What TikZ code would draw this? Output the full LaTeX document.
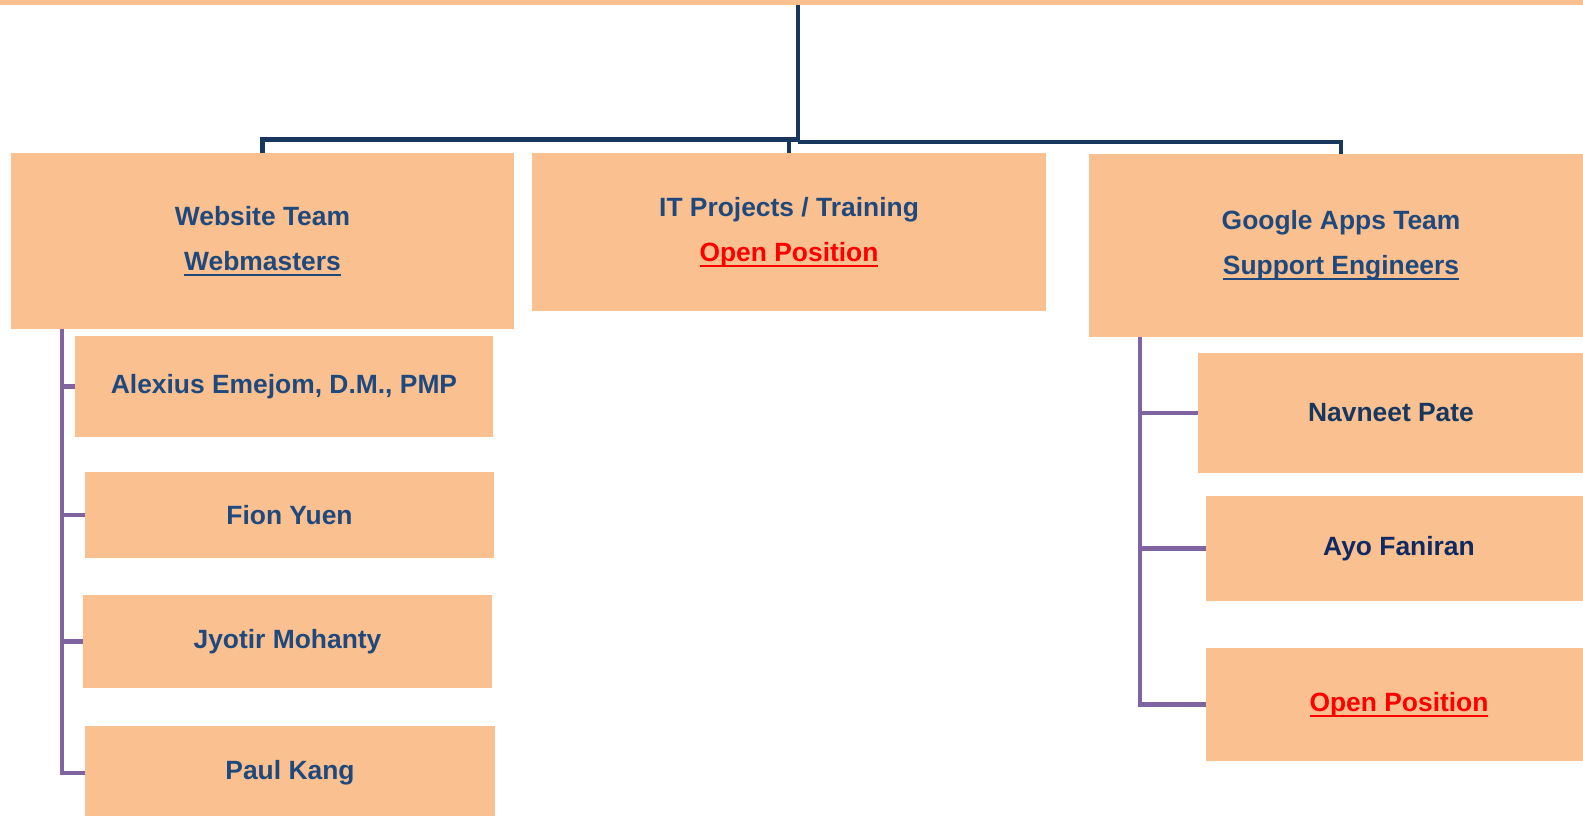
\documentclass[tikz,border=0pt]{standalone}
\usepackage{fontspec}
\setmainfont{Liberation Sans}
\definecolor{boxfill}{HTML}{FAC090}
\definecolor{trunkcol}{HTML}{17375E}
\definecolor{txtblue}{HTML}{1F497D}
\definecolor{txtnavy}{HTML}{17375E}
\definecolor{txtdeep}{HTML}{0F2A62}
\definecolor{purplecol}{HTML}{8064A2}
\definecolor{openred}{HTML}{FF0000}
\newcommand\ulinetext[1]{\leavevmode\setbox0\hbox{#1}\rlap{\rule[-2.6pt]{\wd0}{0.8pt}}\box0}
\tikzset{
  box/.style={draw=none, fill=boxfill, inner sep=0pt, align=center, text=txtblue,
    font=\bfseries\fontsize{13.2}{22.5}\selectfont},
  wh/.style 2 args={minimum width=#1*0.5pt, minimum height=#2*0.5pt},
  trunk/.style={draw=trunkcol, line width=2.4pt},
  branch/.style={draw=purplecol, line width=2.3pt},
}
\begin{document}
\begin{tikzpicture}[x=0.5pt, y=-0.5pt]
\useasboundingbox (0,0) rectangle (1583,815);
% boxes
\node[box, wh={1583}{5}] (top) at (791.5,2.5) {};
\node[box, wh={503}{176}] (web) at (262.5,241) {Website Team\\\ulinetext{Webmasters}};
\node[box, wh={514}{158}] (it) at (789,232) {IT Projects / Training\\\textcolor{openred}{\ulinetext{Open Position}}};
\node[box, wh={504}{183}] (gapps) at (1341,245.5) {Google Apps Team\\\ulinetext{Support Engineers}};
\node[box, wh={418}{101}] (alex) at (284,386.5) {Alexius Emejom, D.M., PMP};
\node[box, wh={409}{86}] (fion) at (289.5,515) {Fion Yuen};
\node[box, wh={409}{93}] (jyot) at (287.5,641.5) {Jyotir Mohanty};
\node[box, wh={410}{94}] (paul) at (290,773) {Paul Kang};
\node[box, text=txtnavy, wh={386}{120}] (nav) at (1391,413) {Navneet Pate};
\node[box, text=txtdeep, wh={386}{105}] (ayo) at (1399,548.5) {Ayo Faniran};
\node[box, wh={386}{113}] (open) at (1399,704.5) {\textcolor{openred}{\ulinetext{Open Position}}};
% trunk connectors
\coordinate (hubL) at (798,139.5);
\coordinate (hubR) at (798,142);
\draw[trunk] (top.south -| hubR) -- (hubR);
\draw[trunk] (hubL) -| (web.north);
\draw[trunk] (hubL) -| (it.north);
\draw[trunk] (hubR) -| (gapps.north);
% left branch
\coordinate (lsp) at (62,329);
\draw[branch] (web.south -| lsp) |- (alex.west);
\draw[branch] (web.south -| lsp) |- (fion.west);
\draw[branch] (web.south -| lsp) |- (jyot.west);
\draw[branch] (web.south -| lsp) |- (paul.west);
% right branch
\coordinate (rsp) at (1140,337);
\draw[branch] (gapps.south -| rsp) |- (nav.west);
\draw[branch] (gapps.south -| rsp) |- (ayo.west);
\draw[branch] (gapps.south -| rsp) |- (open.west);
\end{tikzpicture}
\end{document}
